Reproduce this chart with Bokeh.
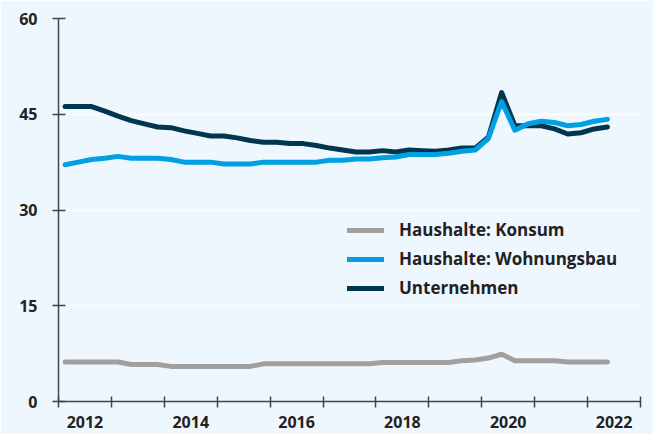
from bokeh.plotting import figure
from bokeh.models import FixedTicker, Legend, LegendItem, Range1d, ColumnDataSource
from bokeh.embed import file_html
from bokeh.resources import INLINE

# Quarterly data 2012Q1 .. 2022Q2
quarters = [f"{y}-Q{q}" for y in range(2012, 2023) for q in range(1, 5)][:42]

konsum = [6.2, 6.2, 6.2, 6.2, 6.2, 5.8, 5.8, 5.8, 5.5, 5.5, 5.5, 5.5, 5.5, 5.5, 5.5,
          5.9, 5.9, 5.9, 5.9, 5.9, 5.9, 5.9, 5.9, 5.9, 6.1, 6.1, 6.1, 6.1, 6.1, 6.1,
          6.4, 6.5, 6.8, 7.4, 6.4, 6.4, 6.4, 6.4, 6.2, 6.2, 6.2, 6.2]
wohnungsbau = [37.1, 37.5, 37.9, 38.1, 38.4, 38.1, 38.1, 38.1, 37.9, 37.5, 37.5, 37.5,
               37.2, 37.2, 37.2, 37.5, 37.5, 37.5, 37.5, 37.5, 37.8, 37.8, 38.0, 38.0,
               38.2, 38.3, 38.7, 38.7, 38.7, 38.9, 39.2, 39.4, 41.2, 47.0, 42.5, 43.5,
               43.9, 43.7, 43.2, 43.4, 43.9, 44.2]
unternehmen = [46.2, 46.2, 46.2, 45.5, 44.7, 44.0, 43.5, 43.0, 42.9, 42.4, 42.0, 41.6,
               41.6, 41.3, 40.9, 40.6, 40.6, 40.4, 40.4, 40.1, 39.7, 39.4, 39.1, 39.1,
               39.3, 39.1, 39.4, 39.3, 39.2, 39.4, 39.7, 39.7, 41.4, 48.4, 43.2, 43.2,
               43.2, 42.7, 41.9, 42.1, 42.7, 43.0]

series_names = ["Haushalte: Konsum", "Haushalte: Wohnungsbau", "Unternehmen"]
y_ticks = [0, 15, 30, 45, 60]
year_labels = ["2012", "2014", "2016", "2018", "2020", "2022"]
year_bounds = list(range(2012, 2024))

def qpos(label):
    y, q = label.split("-Q")
    return int(y) + (int(q) - 0.5) / 4.0

x = [qpos(q) for q in quarters]
src = ColumnDataSource(dict(x=x, k=konsum, w=wohnungsbau, u=unternehmen))

BG = "#EEF6FE"
FONT = "Open Sans"
TXT = "#222222"
AX = "#444444"

p = figure(frame_width=582, frame_height=383, output_backend="svg", toolbar_location=None,
           x_range=Range1d(2012, 2023), y_range=Range1d(0, 60),
           min_border_left=58, min_border_right=13, min_border_top=18, min_border_bottom=33)
p.background_fill_color = BG
p.border_fill_color = BG
p.outline_line_color = None

r_k = p.line("x", "k", source=src, line_color="#A0A0A0", line_width=5, line_cap="round", line_join="round")
r_u = p.line("x", "u", source=src, line_color="#00374F", line_width=5, line_cap="round", line_join="round")
r_w = p.line("x", "w", source=src, line_color="#00A0E2", line_width=5, line_cap="round", line_join="round")

# x axis: labels at mid-year, tick marks at year boundaries
mids = [int(l) + 0.5 for l in year_labels]
p.xaxis.ticker = FixedTicker(ticks=mids, minor_ticks=year_bounds)
p.xaxis.major_label_overrides = {m: l for m, l in zip(mids, year_labels)}
p.xaxis.major_tick_in = 0
p.xaxis.major_tick_out = 0
p.xaxis.minor_tick_in = 5
p.xaxis.minor_tick_out = 6
p.xaxis.minor_tick_line_color = AX
p.xaxis.minor_tick_line_width = 1.5
p.xaxis.major_label_standoff = 8

p.yaxis.ticker = FixedTicker(ticks=y_ticks)
p.yaxis.major_tick_in = 7
p.yaxis.major_tick_out = 6
p.yaxis.major_tick_line_color = AX
p.yaxis.major_tick_line_width = 1.5
p.yaxis.minor_tick_line_color = None
p.yaxis.major_label_standoff = 15

for ax in (p.xaxis, p.yaxis):
    ax.axis_line_color = AX
    ax.axis_line_width = 1.5
    ax.major_label_text_font = FONT
    ax.major_label_text_font_style = "bold"
    ax.major_label_text_font_size = "16px"
    ax.major_label_text_color = TXT

p.xgrid.grid_line_color = None
p.ygrid.ticker = FixedTicker(ticks=y_ticks)
p.ygrid.grid_line_color = "white"
p.ygrid.grid_line_width = 1.5

legend = Legend(items=[LegendItem(label=series_names[0], renderers=[r_k]),
                       LegendItem(label=series_names[1], renderers=[r_w]),
                       LegendItem(label=series_names[2], renderers=[r_u])],
                location=(289, 102), glyph_width=37, glyph_height=20, label_height=20,
                label_standoff=15, spacing=6, padding=0, margin=0,
                border_line_alpha=0, background_fill_alpha=0,
                label_text_font=FONT, label_text_font_style="bold",
                label_text_font_size="17px", label_text_color=TXT)
p.add_layout(legend)

open("out.html", "w").write(file_html(p, INLINE))
